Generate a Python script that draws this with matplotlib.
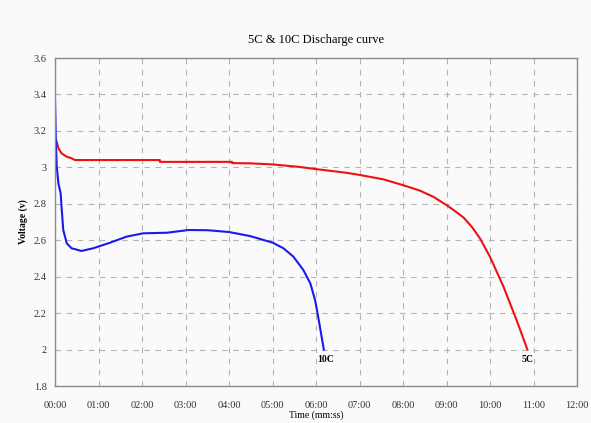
import matplotlib
matplotlib.use("Agg")
import matplotlib.pyplot as plt
from matplotlib.ticker import FuncFormatter, MultipleLocator

# time in minutes, voltage in volts
t_5c = [0.0, 0.04, 0.08, 0.15, 0.27, 0.38, 0.46, 2.41, 2.41, 4.07, 4.07, 4.48, 5.0, 5.59,
        6.01, 6.36, 6.70, 7.01, 7.55, 7.99, 8.39, 8.7, 9.0, 9.16, 9.39, 9.58, 9.77, 10.0,
        10.31, 10.61, 10.86]
v_5c = [3.16, 3.14, 3.104, 3.077, 3.058, 3.05, 3.04, 3.04, 3.03, 3.03, 3.023, 3.022, 3.016, 3.003,
        2.99, 2.98, 2.97, 2.958, 2.934, 2.903, 2.872, 2.838, 2.793, 2.766, 2.725, 2.674, 2.61, 2.509,
        2.345, 2.162, 2.0]

t_10c = [0.0, 0.02, 0.04, 0.08, 0.13, 0.15, 0.19, 0.27, 0.38, 0.61, 0.88, 1.26, 1.65,
         2.03, 2.57, 3.07, 3.5, 4.0, 4.48, 5.0, 5.25, 5.48, 5.71, 5.87, 5.98, 6.05, 6.18]
v_10c = [3.373, 3.15, 3.003, 2.91, 2.857, 2.784, 2.656, 2.583, 2.556, 2.541, 2.556, 2.586, 2.62,
         2.638, 2.641, 2.656, 2.655, 2.645, 2.623, 2.587, 2.556, 2.51, 2.436, 2.363, 2.27, 2.18, 2.0]

serif = ["Liberation Serif", "DejaVu Serif"]
bg = "#fafafa"

fig = plt.figure(figsize=(5.91, 4.23), dpi=100, facecolor=bg)
ax = fig.add_axes([55 / 591, 1 - 386 / 423, (577 - 55) / 591, (386 - 58) / 423])
ax.set_facecolor(bg)

ax.plot(t_5c, v_5c, color="#ee1111", linewidth=1.5)
ax.plot(t_10c, v_10c, color="#1a1aee", linewidth=1.5)

ax.text(t_10c[-1] + 0.05, 1.97, "10C", fontsize=7, fontweight="bold", family=serif,
        ha="center", va="top")
ax.text(t_5c[-1], 1.97, "5C", fontsize=7, fontweight="bold", family=serif,
        ha="center", va="top")

ax.set_xlim(0, 12)
ax.set_ylim(1.8, 3.6)
ax.xaxis.set_major_locator(MultipleLocator(1))
ax.yaxis.set_major_locator(MultipleLocator(0.2))
ax.xaxis.set_major_formatter(FuncFormatter(lambda x, p: "%02d:00" % round(x)))
ax.yaxis.set_major_formatter(FuncFormatter(lambda y, p: ("%.1f" % y).rstrip("0").rstrip(".")))
ax.tick_params(length=0, labelsize=7.5, colors="#333333")
ax.tick_params(axis="x", pad=11)
ax.tick_params(axis="y", pad=6)
for lab in ax.get_xticklabels() + ax.get_yticklabels():
    lab.set_family(serif)

ax.grid(True, color="#b4b4b4", linestyle=(0, (5, 5)), linewidth=0.8)
for s in ax.spines.values():
    s.set_color("#8a8a8a")
    s.set_linewidth(1)

ax.set_title("5C & 10C Discharge curve", fontsize=9, family=serif, pad=11)
ax.set_xlabel("Time (mm:ss)", fontsize=7, family=serif, labelpad=0)
ax.set_ylabel("Voltage (v)", fontsize=7, family=serif, fontweight="bold", labelpad=4)

fig.savefig("out.png", dpi=100, facecolor=bg)
